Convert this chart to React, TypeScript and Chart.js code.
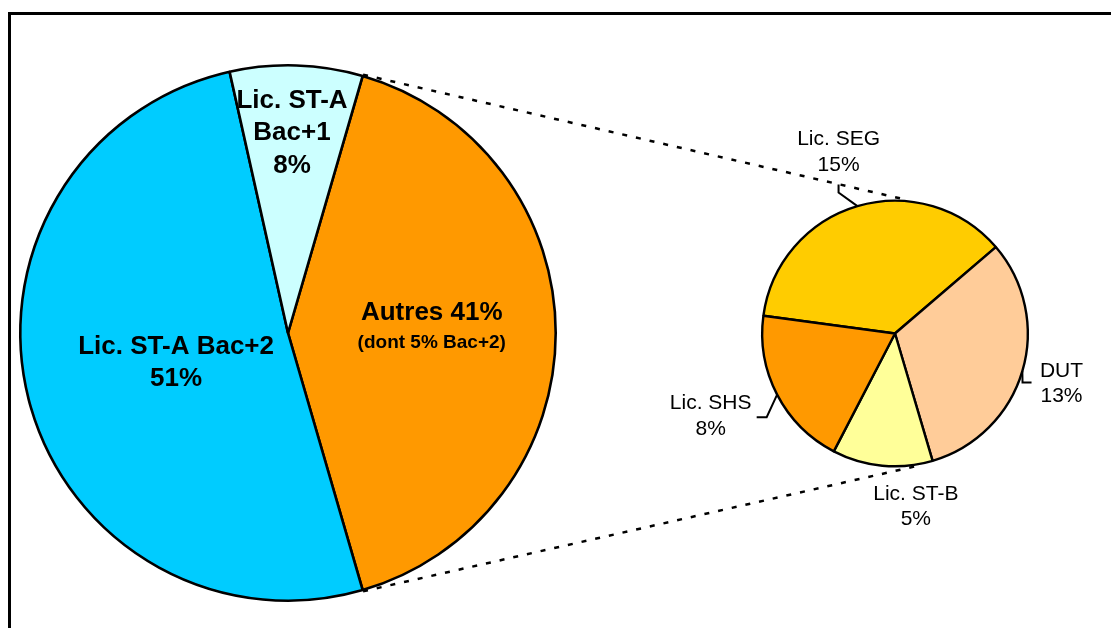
import React, { useEffect, useRef } from "react";
import { Chart, registerables } from "chart.js";
Chart.register(...registerables);

// ---- data ----
const mainCategories = ["Autres", "Lic. ST-A Bac+2", "Lic. ST-A Bac+1"];
const mainValues = [41, 51, 8];
const mainColors = ["#FF9900", "#00CCFF", "#CCFFFF"];
const autresNote = "(dont 5% Bac+2)";

const subCategories = ["Lic. SEG", "DUT", "Lic. ST-B", "Lic. SHS"];
const subValues = [15, 13, 5, 8];
const subColors = ["#FFCC00", "#FFCC99", "#FFFF99", "#FF9900"];

const W = 1111;
const H = 628;
const FONT = "'Liberation Sans', Arial, sans-serif";

// label centres relative to pie centre, in units of radius
const mainLabelOffsets = [
  [0.537, -0.02],
  [-0.418, 0.112],
  [0.015, -0.746],
];
const subLabelOffsets = [
  [-0.425, -1.366],
  [1.254, 0.377],
  [0.157, 1.306],
  [-1.388, 0.623],
];
// leader lines: elbow and end relative to label centre (px), null = none
const subLeaders: (number[][] | null)[] = [
  [[0, 40.5], [0, 32.5]],
  [[-39, -1], [-30, -1]],
  null,
  [[56, 1], [46, 1]],
];

function mainLines(i: number): string[] {
  const pct = `${mainValues[i]}%`;
  if (i === 0) return [`${mainCategories[0]} ${pct}`];
  if (i === 1) return [mainCategories[1], pct];
  return ["Lic. ST-A", "Bac+1", pct];
}

export default function App() {
  const mainRef = useRef<HTMLCanvasElement | null>(null);
  const subRef = useRef<HTMLCanvasElement | null>(null);

  useEffect(() => {
    if (!mainRef.current || !subRef.current) return;

    const mainLabelPlugin = {
      id: "mainLabels",
      afterDatasetsDraw(chart: any) {
        const ctx = chart.ctx;
        const meta = chart.getDatasetMeta(0);
        ctx.save();
        ctx.fillStyle = "#000";
        ctx.textAlign = "center";
        ctx.textBaseline = "middle";
        meta.data.forEach((arc: any, i: number) => {
          const R = arc.outerRadius;
          const cx = arc.x + mainLabelOffsets[i][0] * R;
          const cy = arc.y + mainLabelOffsets[i][1] * R;
          if (i === 0) {
            ctx.font = `bold 26px ${FONT}`;
            ctx.fillText(mainLines(0)[0], cx, cy - 15);
            ctx.font = `bold 19px ${FONT}`;
            ctx.fillText(autresNote, cx, cy + 15);
          } else {
            const lines = mainLines(i);
            const lh = 32.5;
            ctx.font = `bold 26px ${FONT}`;
            lines.forEach((t, j) => {
              ctx.fillText(t, cx, cy + (j - (lines.length - 1) / 2) * lh);
            });
          }
        });
        ctx.restore();
      },
    };

    const mainRotation = 90 - (mainValues[0] * 3.6) / 2;
    const mainChart = new Chart(mainRef.current, {
      type: "pie",
      data: {
        labels: mainCategories,
        datasets: [
          {
            data: mainValues,
            backgroundColor: mainColors,
            borderColor: "#000",
            borderWidth: 2.6,
            rotation: mainRotation,
          } as any,
        ],
      },
      options: {
        responsive: false,
        animation: false,
        events: [],
        rotation: mainRotation,
        layout: { padding: { left: 19, top: 64, right: W - 557, bottom: H - 602 } },
        plugins: { legend: { display: false }, tooltip: { enabled: false } },
      } as any,
      plugins: [mainLabelPlugin],
    });

    const subPlugin = {
      id: "subLabels",
      afterDatasetsDraw(chart: any) {
        const ctx = chart.ctx;
        const meta = chart.getDatasetMeta(0);
        const arcs = meta.data;
        ctx.save();
        // connector dashed lines from main "Autres" slice
        const mArc: any = mainChart.getDatasetMeta(0).data[0];
        const mR = mArc.outerRadius + 1.3;
        const a0 = arcs[0] as any;
        const sR = a0.outerRadius + 1.3;
        const topTarget = 5.1 * (Math.PI / 180);
        const botTarget = 168.5 * (Math.PI / 180);
        ctx.strokeStyle = "#000";
        ctx.lineWidth = 2.5;
        ctx.setLineDash([5, 9]);
        ctx.beginPath();
        ctx.moveTo(mArc.x + Math.cos(mArc.startAngle) * mR, mArc.y + Math.sin(mArc.startAngle) * mR);
        ctx.lineTo(a0.x + Math.sin(topTarget) * sR, a0.y - Math.cos(topTarget) * sR);
        ctx.moveTo(mArc.x + Math.cos(mArc.endAngle) * mR, mArc.y + Math.sin(mArc.endAngle) * mR);
        ctx.lineTo(a0.x + Math.sin(botTarget) * sR, a0.y - Math.cos(botTarget) * sR);
        ctx.stroke();
        ctx.setLineDash([]);

        ctx.fillStyle = "#000";
        ctx.textAlign = "center";
        ctx.textBaseline = "middle";
        ctx.font = `21px ${FONT}`;
        arcs.forEach((arc: any, i: number) => {
          const R = arc.outerRadius;
          const lx = arc.x + subLabelOffsets[i][0] * R;
          const ly = arc.y + subLabelOffsets[i][1] * R;
          const lh = 25.5;
          ctx.fillText(subCategories[i], lx, ly - lh / 2);
          ctx.fillText(`${subValues[i]}%`, lx, ly + lh / 2);
          const leader = subLeaders[i];
          if (leader) {
            const mid = (arc.startAngle + arc.endAngle) / 2;
            ctx.beginPath();
            ctx.lineWidth = 2;
            ctx.moveTo(arc.x + Math.cos(mid) * R, arc.y + Math.sin(mid) * R);
            ctx.lineTo(lx + leader[0][0], ly + leader[0][1]);
            ctx.lineTo(lx + leader[1][0], ly + leader[1][1]);
            ctx.stroke();
          }
        });
        ctx.restore();
      },
    };

    const subChart = new Chart(subRef.current, {
      type: "pie",
      data: {
        labels: subCategories,
        datasets: [
          {
            data: subValues,
            backgroundColor: subColors,
            borderColor: "#000",
            borderWidth: 2.4,
            rotation: -82.3,
          } as any,
        ],
      },
      options: {
        responsive: false,
        animation: false,
        events: [],
        rotation: -82.3,
        layout: { padding: { left: 761, top: 199.5, right: W - 1029, bottom: H - 467.5 } },
        plugins: { legend: { display: false }, tooltip: { enabled: false } },
      } as any,
      plugins: [subPlugin],
    });

    return () => {
      subChart.destroy();
      mainChart.destroy();
    };
  }, []);

  return (
    <div
      style={{
        position: "fixed",
        left: 0,
        top: 0,
        width: W,
        height: H,
        overflow: "hidden",
        background: "#fff",
      }}
    >
      <div
        style={{
          position: "absolute",
          left: 8,
          top: 12,
          width: 2000,
          height: 2000,
          borderTop: "3px solid #000",
          borderLeft: "3px solid #000",
        }}
      />
      <canvas
        ref={mainRef}
        width={W}
        height={H}
        style={{ position: "absolute", left: 0, top: 0, width: W, height: H }}
      />
      <canvas
        ref={subRef}
        width={W}
        height={H}
        style={{ position: "absolute", left: 0, top: 0, width: W, height: H }}
      />
    </div>
  );
}
